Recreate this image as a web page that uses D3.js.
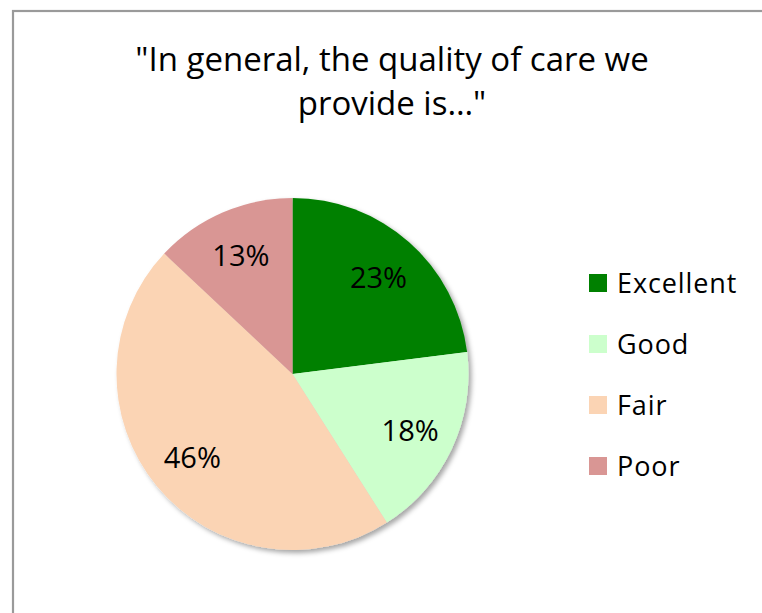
<!DOCTYPE html>
<html>
<head>
<meta charset="utf-8">
<script src="https://cdn.jsdelivr.net/npm/d3@7"></script>
<style>
  html, body { margin: 0; padding: 0; background: #fff; }
  svg { display: block; }
  text { font-family: "Open Sans", "Noto Sans", sans-serif; fill: #000; }
</style>
</head>
<body>
<svg id="chart" width="762" height="613"></svg>
<script>
const categories = ["Excellent", "Good", "Fair", "Poor"];
const values = [23, 18, 46, 13];
const colors = ["#008000", "#CCFFCC", "#FBD4B4", "#D99694"];
const titleLines = ["\"In general, the quality of care we", "provide is…\""];

const svg = d3.select("#chart");
const W = 762, H = 613;

const defs = svg.append("defs");
const f = defs.append("filter").attr("id", "shadow")
  .attr("x", "-10%").attr("y", "-10%").attr("width", "125%").attr("height", "125%");
f.append("feDropShadow").attr("dx", 3).attr("dy", 3).attr("stdDeviation", 2.5)
  .attr("flood-color", "#000").attr("flood-opacity", 0.35);

svg.append("rect").attr("x", 0).attr("y", 0).attr("width", W).attr("height", H).attr("fill", "#fff");
// chart frame
svg.append("rect").attr("x", 13).attr("y", 11).attr("width", 900).attr("height", 800)
  .attr("fill", "#fff").attr("stroke", "#9a9a9a").attr("stroke-width", 2.2);

// title
const title = svg.append("text").attr("text-anchor", "middle").style("font-size", "33px");
titleLines.forEach((t, i) => {
  title.append("tspan").attr("x", 392).attr("y", 71 + i * 44).text(t);
});

// pie
const cx = 292.5, cy = 374, r = 176;
const color = d3.scaleOrdinal().domain(categories).range(colors);
const pie = d3.pie().sort(null).value(d => d.value);
const data = categories.map((c, i) => ({ name: c, value: values[i] }));
const arcs = pie(data);
const arc = d3.arc().innerRadius(0).outerRadius(r);
const labelArc = d3.arc().innerRadius(130).outerRadius(130);

const g = svg.append("g").attr("transform", `translate(${cx},${cy})`);
g.append("g").attr("filter", "url(#shadow)")
  .selectAll("path").data(arcs).join("path")
  .attr("d", arc)
  .attr("fill", d => color(d.data.name));

const total = d3.sum(values);
g.selectAll("text.lbl").data(arcs).join("text")
  .attr("class", "lbl")
  .attr("transform", d => `translate(${labelArc.centroid(d)})`)
  .attr("text-anchor", "middle")
  .attr("dy", "0.4em")
  .style("font-size", "29px")
  .text(d => d3.format(".0%")(d.data.value / total));

// legend
const legend = svg.append("g");
const ly = d3.scalePoint().domain(categories).range([283, 466]);
const items = legend.selectAll("g").data(categories).join("g")
  .attr("transform", d => `translate(589,${ly(d)})`);
items.append("rect").attr("x", 0).attr("y", -9).attr("width", 18).attr("height", 18)
  .attr("fill", d => color(d));
items.append("text").attr("x", 28).attr("y", 10)
  .style("font-size", "27px")
  .style("letter-spacing", "0.9px")
  .text(d => d);
</script>
</body>
</html>
